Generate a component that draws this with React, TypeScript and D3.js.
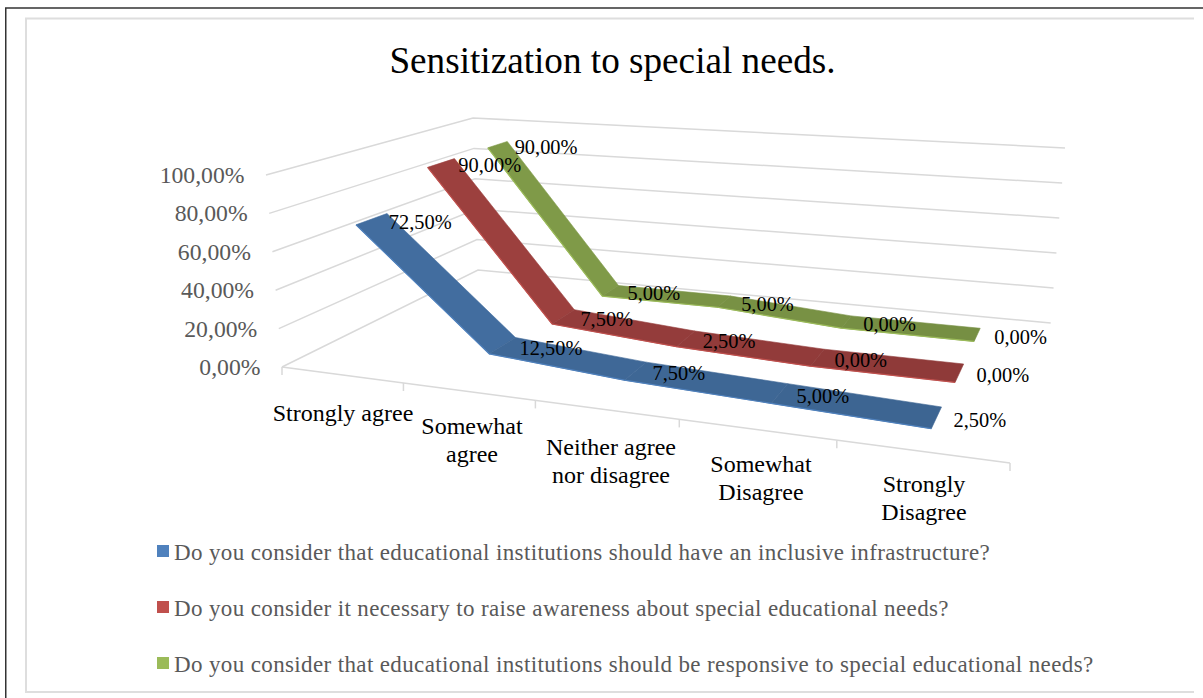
import React from "react";
import * as d3 from "d3";

const categories = [["Strongly agree"], ["Somewhat", "agree"], ["Neither agree", "nor disagree"], ["Somewhat", "Disagree"], ["Strongly", "Disagree"]];
const seriesNames = [
  "Do you consider that educational institutions should have an inclusive infrastructure?",
  "Do you consider it necessary to raise awareness about special educational needs?",
  "Do you consider that educational institutions should be responsive to special educational needs?",
];
const inclusiveInfrastructure = [72.5, 12.5, 7.5, 5, 2.5];
const raiseAwareness = [90, 7.5, 2.5, 0, 0];
const responsive = [90, 5, 5, 0, 0];
const seriesValues = [inclusiveInfrastructure, raiseAwareness, responsive];
const valueTicks = [0, 20, 40, 60, 80, 100];
const legendColors = ["#4f81bd", "#c0504d", "#9bbb59"];
const ribbonColors = ["#426d9f", "#9c403e", "#7f9a48"];
const ribbonDark = ["#3d6592", "#8f3a39", "#768f43"];
const ribbonDepth = [[0.1, 0.235], [0.44, 0.58], [0.77, 0.89]];

type Pt = [number, number];
// projective map of the unit square onto a quadrilateral p00,p10,p11,p01
function homography(p00: Pt, p10: Pt, p11: Pt, p01: Pt) {
  const [x0, y0] = p00, [x1, y1] = p10, [x2, y2] = p11, [x3, y3] = p01;
  const dx1 = x1 - x2, dx2 = x3 - x2, sx = x0 - x1 + x2 - x3;
  const dy1 = y1 - y2, dy2 = y3 - y2, sy = y0 - y1 + y2 - y3;
  const det = dx1 * dy2 - dx2 * dy1;
  const g = (sx * dy2 - dx2 * sy) / det, h = (dx1 * sy - sx * dy1) / det;
  const a = x1 - x0 + g * x1, b = x3 - x0 + h * x3, c = x0;
  const d = y1 - y0 + g * y1, e = y3 - y0 + h * y3, f = y0;
  return (u: number, v: number): Pt => {
    const w = g * u + h * v + 1;
    return [(a * u + b * v + c) / w, (d * u + e * v + f) / w];
  };
}
const floor = homography([282, 367], [1010, 463], [1050.7, 323], [478, 270]);
const ceil = homography([266, 175], [1030, 240], [1065, 148], [473, 118]);
const uScale = d3.scaleLinear().domain([0, categories.length]).range([0, 1]);
const catScale = d3.scaleLinear().domain([0, categories.length - 1]).range([0.53, 4.51]);
const vScale = d3.scaleLinear().domain([0, 100]).range([0, 1]);
function project(cat: number, depth: number, value: number): Pt {
  const a = floor(uScale(cat), depth), b = ceil(uScale(cat), depth), t = vScale(value);
  return [a[0] + (b[0] - a[0]) * t, a[1] + (b[1] - a[1]) * t];
}
const line = d3.line<Pt>();
const SERIF = "'Liberation Serif','Times New Roman',serif";
const catPos = [[343, 421], [472, 434], [611, 455], [761, 472], [924, 492]];

export default function App() {
  const n = categories.length;
  return (
    <svg width={1203} height={698} style={{ position: "absolute", left: 0, top: 0, background: "#fff" }} fontFamily={SERIF}>
      <path d="M5.75,698V8H1203" fill="none" stroke="#333" strokeWidth={1.5} />
      <path d="M1194,18.5H26V692H1194" fill="none" stroke="#dedede" strokeWidth={2} />
      <text x={612.5} y={73} fontSize={37.2} textAnchor="middle" fill="#000">Sensitization to special needs.</text>

      {valueTicks.map((t) => (
        <g key={t}>
          <path d={line([project(0, 0, t), project(0, 1, t), project(n, 1, t)])!} fill="none" stroke="#d9d9d9" strokeWidth={1.5} />
          <text x={project(0, 0, t)[0] - 21.5} y={project(0, 0, t)[1] + 8} fontSize={23.7} textAnchor="end" fill="#595959">{t.toFixed(2).replace(".", ",")}%</text>
        </g>
      ))}
      <path d={line([project(0, 0, 0), project(n, 0, 0)])!} fill="none" stroke="#d9d9d9" strokeWidth={1.5} />
      {d3.range(n + 1).map((i) => {
        const p = project(i, 0, 0);
        return <path key={i} d={line([p, [p[0], p[1] + 8]])!} stroke="#d9d9d9" strokeWidth={1.5} />;
      })}
      {categories.map((c, i) => (
        <text key={i} x={catPos[i][0]} y={catPos[i][1]} fontSize={24} textAnchor="middle" fill="#000">
          {c.map((s, j) => <tspan key={j} x={catPos[i][0]} dy={j ? 28 : 0}>{s}</tspan>)}
        </text>
      ))}

      {seriesValues.map((vals, s) => {
        const [w0, w1] = ribbonDepth[s];
        return (
          <g key={s}>
            {vals.slice(0, -1).map((v, i) => {
              const q = [project(catScale(i), w0, v), project(catScale(i + 1), w0, vals[i + 1]), project(catScale(i + 1), w1, vals[i + 1]), project(catScale(i), w1, v)] as Pt[];
              const col = i === 0 ? ribbonColors[s] : d3.interpolateRgb(ribbonColors[s], ribbonDark[s])(0.4 + i * 0.2);
              return <path key={i} d={line(q)! + "Z"} fill={col} stroke={col} strokeWidth={0.6} />;
            })}
            <path d={line(vals.map((v, i) => project(catScale(i), w0, v)))!} fill="none" stroke={legendColors[s]} strokeWidth={1.2} />
          </g>
        );
      })}
      {seriesValues.map((vals, s) => vals.map((v, i) => {
        const p = project(catScale(i), (ribbonDepth[s][0] + ribbonDepth[s][1]) / 2, v);
        return <text key={`${s}-${i}`} x={p[0] + 17} y={p[1] + 9.5} fontSize={20.4} fill="#000">{v.toFixed(2).replace(".", ",")}%</text>;
      }))}

      {seriesNames.map((name, i) => (
        <g key={i}>
          <rect x={157} y={545 + i * 56} width={12} height={12} fill={legendColors[i]} />
          <text x={174} y={560 + i * 56} fontSize={23} fill="#595959" letterSpacing={0.37}>{name}</text>
        </g>
      ))}
    </svg>
  );
}
